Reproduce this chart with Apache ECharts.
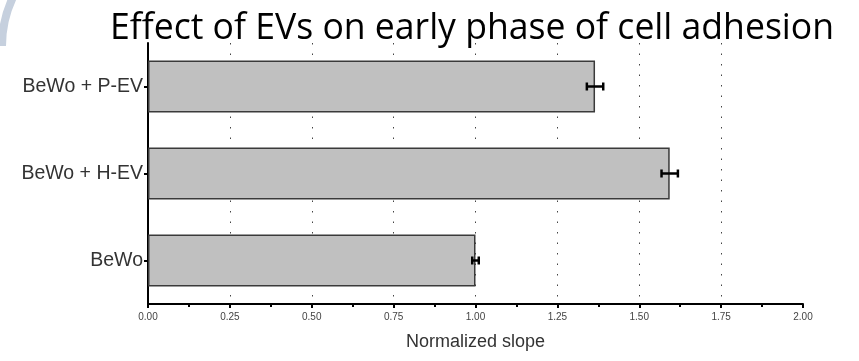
<!DOCTYPE html>
<html>
<head>
<meta charset="utf-8">
<script src="https://cdn.jsdelivr.net/npm/echarts@6/dist/echarts.min.js"></script>
<style>
  html, body { margin: 0; padding: 0; background: #fff; }
  #main { width: 859px; height: 361px; }
</style>
</head>
<body>
<div id="main"></div>
<script>
var myChart = echarts.init(document.getElementById('main'));

// groups, bottom to top
var groups = ['BeWo', 'BeWo + H-EV', 'BeWo + P-EV'];
var slopes = [1.00, 1.593, 1.365];
var errors = [0.01, 0.025, 0.025];

var errData = [];
for (var i = 0; i < groups.length; i++) {
  errData.push([slopes[i], i, errors[i]]);
}

myChart.setOption({
  animation: false,
  title: {
    text: 'Effect of EVs on early phase of cell adhesion',
    left: 467,
    top: 6,
    textAlign: 'center',
    textStyle: {
      fontFamily: 'Open Sans',
      fontSize: 35.6,
      fontWeight: 'normal',
      color: '#000'
    }
  },
  graphic: [{
    type: 'arc',
    shape: { cx: 116, cy: 46, r: 114, startAngle: Math.PI, endAngle: Math.PI * 4 / 3 },
    style: { stroke: '#c6d0de', lineWidth: 8, fill: null },
    silent: true
  }],
  grid: { left: 148, right: 56, top: 43, bottom: 57 },
  xAxis: {
    type: 'value',
    min: 0,
    max: 2,
    interval: 0.25,
    name: 'Normalized slope',
    nameLocation: 'middle',
    nameGap: 29,
    nameTextStyle: { fontFamily: 'Liberation Sans', fontSize: 18, color: '#333' },
    axisLine: { show: true, lineStyle: { color: '#000', width: 2 } },
    axisTick: { show: true, length: 4, lineStyle: { color: '#000', width: 2 } },
    minorTick: { show: true, splitNumber: 2, length: 3, lineStyle: { color: '#000', width: 2 } },
    axisLabel: {
      fontFamily: 'Liberation Sans',
      fontSize: 10,
      color: '#444',
      margin: 8,
      formatter: function (v) { return v.toFixed(2); }
    },
    splitLine: {
      show: true,
      showMinLine: false,
      showMaxLine: false,
      lineStyle: { color: '#444', width: 1, type: [1.5, 9] }
    }
  },
  yAxis: {
    type: 'category',
    data: groups,
    axisLine: { show: true, lineStyle: { color: '#000', width: 2 } },
    axisTick: { show: true, alignWithLabel: true, length: 4, lineStyle: { color: '#000', width: 2 } },
    axisLabel: {
      fontFamily: 'Liberation Sans',
      fontSize: 19.5,
      color: '#333',
      margin: 5
    },
    splitLine: { show: false }
  },
  series: [
    {
      name: 'Normalized slope',
      type: 'bar',
      data: slopes,
      barWidth: 52,
      itemStyle: { color: '#c0c0c0', borderColor: '#3a3a3a', borderWidth: 1.5 }
    },
    {
      name: 'SEM',
      type: 'custom',
      data: errData,
      z: 5,
      renderItem: function (params, api) {
        var v = api.value(0), idx = api.value(1), e = api.value(2);
        var lo = api.coord([v - e, idx]);
        var hi = api.coord([v + e, idx]);
        var cap = 4;
        var st = { stroke: '#000', lineWidth: 2.5 };
        return {
          type: 'group',
          children: [
            { type: 'line', shape: { x1: lo[0], y1: lo[1], x2: hi[0], y2: hi[1] }, style: st },
            { type: 'line', shape: { x1: lo[0], y1: lo[1] - cap, x2: lo[0], y2: lo[1] + cap }, style: st },
            { type: 'line', shape: { x1: hi[0], y1: hi[1] - cap, x2: hi[0], y2: hi[1] + cap }, style: st }
          ]
        };
      }
    }
  ]
});
</script>
</body>
</html>
